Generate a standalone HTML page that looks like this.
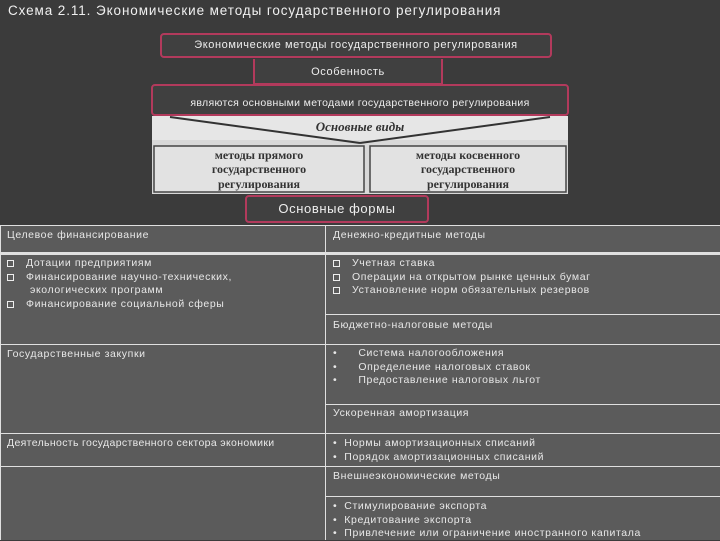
<!DOCTYPE html>
<html><head><meta charset="utf-8"><style>
*{margin:0;padding:0;box-sizing:border-box}
body{width:720px;height:540px;overflow:hidden;background:#3b3b3b;font-family:"Liberation Sans","DejaVu Sans",sans-serif;color:#eee;position:relative}
.a{position:absolute}
.box{position:absolute;border:2px solid #b23a5c;border-radius:4px;background:#404040;color:#eee;text-align:center;font-size:11px;letter-spacing:0.6px;white-space:nowrap}
.t{position:absolute;font-size:10.5px;letter-spacing:0.6px;color:#e8e8e8;white-space:nowrap}
.h{position:absolute;background:#e0e0e0;height:1px}
.v{position:absolute;background:#e0e0e0;width:1px}
.sq{display:inline-block;width:7px;height:7px;border:1.5px solid #eee;margin-right:12px;vertical-align:-1px}
</style></head><body>
<div class="t" style="left:8px;top:3px;font-size:13.5px;letter-spacing:0.9px;color:#f0f0f0">Схема 2.11. Экономические методы государственного регулирования</div>

<div class="box" style="left:160px;top:33px;width:392px;height:25px;line-height:21px">Экономические методы государственного регулирования</div>
<div class="box" style="left:253px;top:59px;width:190px;height:26px;line-height:26px;border-top:none;border-radius:0">Особенность</div>
<div class="box" style="left:151px;top:84px;width:418px;height:32px;line-height:34px;font-size:10.5px;letter-spacing:0.35px">являются основными методами государственного регулирования</div>

<div class="a" style="left:152px;top:116px;width:416px;height:78px;background:#d8d8d8"></div>
<div class="a" style="left:152px;top:116px;width:416px;height:24px;background:#e6e6e6"></div>
<svg class="a" style="left:152px;top:113px" width="416" height="82">
<line x1="18" y1="4" x2="208" y2="30" stroke="#333" stroke-width="2"/>
<line x1="398" y1="4" x2="208" y2="30" stroke="#333" stroke-width="2"/>
<rect x="2" y="33" width="210" height="46" fill="#e2e2e2" stroke="#444" stroke-width="1.5"/>
<rect x="218" y="33" width="196" height="46" fill="#e2e2e2" stroke="#444" stroke-width="1.5"/>
<text x="208" y="18" font-family="Liberation Serif" font-style="italic" font-weight="bold" font-size="13" fill="#333" text-anchor="middle">Основные виды</text>
<text font-family="Liberation Serif" font-weight="bold" font-size="12" fill="#333" text-anchor="middle"><tspan x="107" y="46">методы прямого</tspan><tspan x="107" y="60">государственного</tspan><tspan x="107" y="75">регулирования</tspan></text>
<text font-family="Liberation Serif" font-weight="bold" font-size="12" fill="#333" text-anchor="middle"><tspan x="316" y="46">методы косвенного</tspan><tspan x="316" y="60">государственного</tspan><tspan x="316" y="75">регулирования</tspan></text>
</svg>
<div class="box" style="left:245px;top:195px;width:184px;height:28px;line-height:24px;font-size:13px">Основные формы</div>

<div class="a" style="left:0;top:226px;width:720px;height:314px;background:#5b5b5b"></div>
<div class="h" style="left:0;top:225px;width:720px"></div>
<div class="h" style="left:0;top:252px;width:720px;height:3px"></div>
<div class="h" style="left:325px;top:314px;width:395px"></div>
<div class="h" style="left:0;top:344px;width:720px"></div>
<div class="h" style="left:325px;top:404px;width:395px"></div>
<div class="h" style="left:0;top:433px;width:720px"></div>
<div class="h" style="left:0;top:466px;width:720px"></div>
<div class="h" style="left:325px;top:496px;width:395px"></div>
<div class="v" style="left:325px;top:225px;height:315px"></div>
<div class="v" style="left:0;top:225px;height:315px"></div>

<div class="t" style="left:7px;top:229px">Целевое финансирование</div>
<div class="t" style="left:333px;top:229px">Денежно-кредитные методы</div>
<div class="t" style="left:7px;top:257px;line-height:13.5px"><span class="sq"></span>Дотации предприятиям<br><span class="sq"></span>Финансирование научно-технических,<br><span style="display:inline-block;width:23px"></span>экологических программ<br><span class="sq"></span>Финансирование социальной сферы</div>
<div class="t" style="left:333px;top:257px;line-height:13.5px"><span class="sq"></span>Учетная ставка<br><span class="sq"></span>Операции на открытом рынке ценных бумаг<br><span class="sq"></span>Установление норм обязательных резервов</div>
<div class="t" style="left:333px;top:319px">Бюджетно-налоговые методы</div>
<div class="t" style="left:7px;top:348px">Государственные закупки</div>
<div class="t" style="left:333px;top:347px;line-height:13.5px">•&nbsp;&nbsp;&nbsp;&nbsp;&nbsp;&nbsp;Система налогообложения<br>•&nbsp;&nbsp;&nbsp;&nbsp;&nbsp;&nbsp;Определение налоговых ставок<br>•&nbsp;&nbsp;&nbsp;&nbsp;&nbsp;&nbsp;Предоставление налоговых льгот</div>
<div class="t" style="left:333px;top:407px">Ускоренная амортизация</div>
<div class="t" style="left:7px;top:437px;letter-spacing:0.35px">Деятельность государственного сектора экономики</div>
<div class="t" style="left:333px;top:437px;line-height:13.5px">•&nbsp;&nbsp;Нормы амортизационных списаний<br>•&nbsp;&nbsp;Порядок амортизационных списаний</div>
<div class="t" style="left:333px;top:470px">Внешнеэкономические методы</div>
<div class="t" style="left:333px;top:500px;line-height:13.5px">•&nbsp;&nbsp;Стимулирование экспорта<br>•&nbsp;&nbsp;Кредитование экспорта<br>•&nbsp;&nbsp;Привлечение или ограничение иностранного капитала</div>
</body></html>
